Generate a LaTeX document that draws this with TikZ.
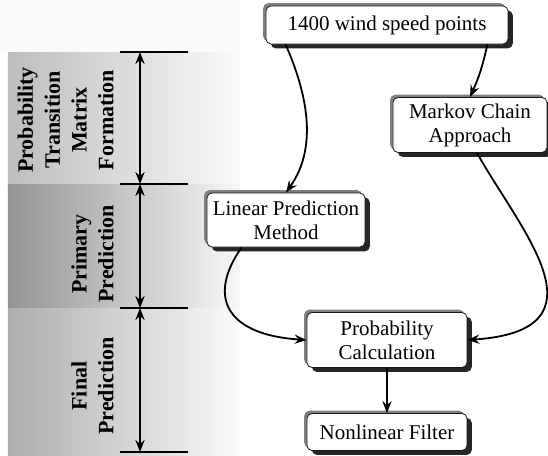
\documentclass[tikz,border=0pt]{standalone}
\usepackage{fontspec}
\setmainfont{Liberation Serif}
\usetikzlibrary{arrows,arrows.meta,positioning,shadows}
\tikzset{>={Stealth[length=6pt,width=4.6pt,inset=2pt]}}

\begin{document}
\begin{tikzpicture}[x=0.5pt,y=-0.5pt,
   box/.style={draw=black!90,fill=white,rounded corners=2.5pt,align=center,
      inner sep=1pt,font=\fontsize{10.5}{12}\selectfont,
      general shadow={fill=black!50,shadow xshift=-1.4pt,shadow yshift=1.4pt},
      general shadow={fill=black!85,shadow xshift=2.4pt,shadow yshift=-2.2pt}},
   band/.style={rotate=90,anchor=south,align=center,inner sep=0pt,
      font=\fontsize{11}{13.4}\selectfont\bfseries},
   link/.style={->,line width=0.9pt},
]
\useasboundingbox (0,0) rectangle (548,456);

% shaded bands on the left
\fill[black!2] (0,0) rectangle (240,52);
\shade[left color=black!26,right color=black!2] (8,52) rectangle (240,184);
\shade[left color=black!42,right color=black!3] (8,184) rectangle (240,308);
\shade[left color=black!32,right color=black!2] (8,308) rectangle (240,456);

\coordinate (t1) at (140,52);
\coordinate (t2) at (140,184);
\coordinate (t3) at (140,308);
\coordinate (t4) at (140,452);
\foreach \y in {52,184,308,452}
   \draw[line width=0.7pt] (120,\y) -- (188,\y);
\draw[link,<->] (t1) -- (t2);
\draw[link,<->] (t2) -- (t3);
\draw[link,<->] (t3) -- (t4);

\node[band] (pmf) at (114,120) {Probability\\Transition\\Matrix\\Formation};
\node[band] (pri) at (114,254) {Primary\\Prediction};
\node[band] (fin) at (114,386) {Final\\Prediction};

% flow chart
\node[box,minimum width=121pt,minimum height=19pt] (pts) at (387,25) {1400 wind speed points};
\node[box,minimum width=77pt,minimum height=27.5pt] (markov) at (470,125) {Markov Chain\\Approach};
\node[box,minimum width=79pt,minimum height=27pt] (linear) at (286,220) {Linear Prediction\\Method};
\node[box,minimum width=80pt,minimum height=27.5pt] (prob) at (387,340) {Probability\\Calculation};
\node[box,minimum width=80pt,minimum height=18.5pt] (filter) at (387,432) {Nonlinear Filter};

\draw[link] ([xshift=10pt]pts.south west) .. controls (310,100) and (316,150) .. (linear.north);
\draw[link] ([xshift=-10.5pt]pts.south east) to[bend left=6] (markov.north);
\draw[link] ([xshift=3.5pt]markov.south) .. controls (520,230) and (612,330) .. (prob.east);
\draw[link] ([xshift=17.5pt]linear.south west) .. controls (205,300) and (230,335) .. (prob.west);
\draw[link] (prob) -- (filter);
\end{tikzpicture}
\end{document}
